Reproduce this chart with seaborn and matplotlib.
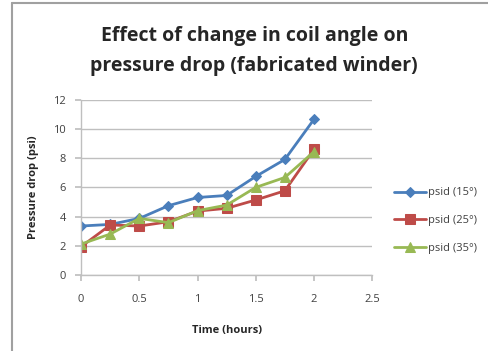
import matplotlib
matplotlib.use("Agg")
import matplotlib.pyplot as plt
import seaborn as sns
import pandas as pd
from matplotlib.lines import Line2D

time_hours = [0, 0.25, 0.5, 0.75, 1.0, 1.25, 1.5, 1.75, 2.0]
psid_15 = [3.35, 3.46, 3.87, 4.74, 5.3, 5.44, 6.74, 7.9, 10.64]
psid_25 = [1.94, 3.42, 3.35, 3.64, 4.37, 4.56, 5.13, 5.76, 8.59]
psid_35 = [2.12, 2.8, 3.87, 3.58, 4.4, 4.78, 5.99, 6.67, 8.43]
series_names = ["psid (15°)", "psid (25°)", "psid (35°)"]
x_ticks = [0, 0.5, 1, 1.5, 2, 2.5]
y_ticks = [0, 2, 4, 6, 8, 10, 12]

sns.set_theme(style="white")
plt.rcParams['font.family'] = ['Open Sans', 'DejaVu Sans']

rows = []
for name, vals in zip(series_names, [psid_15, psid_25, psid_35]):
    for t, v in zip(time_hours, vals):
        rows.append({"Time": t, "Pressure": v, "Series": name})
df = pd.DataFrame(rows)

fig = plt.figure(figsize=(4.89, 3.51), dpi=100)
ax = fig.add_axes([0.166, 0.2165, 0.595, 0.50])

palette = ["#4A7EBB", "#BE4B48", "#98B954"]
markers = ["D", "s", "^"]
sizes = [5, 7, 7]
for name, col, m, ms in zip(series_names, palette, markers, sizes):
    sub = df[df["Series"] == name]
    sns.lineplot(data=sub, x="Time", y="Pressure", ax=ax, color=col, marker=m,
                 markersize=ms, markeredgecolor=col, linewidth=2.0, label=name,
                 errorbar=None)

ax.set_xlim(0, 2.5)
ax.set_ylim(0, 12)
ax.set_xticks(x_ticks)
ax.set_xticklabels(["0", "0.5", "1", "1.5", "2", "2.5"])
ax.set_yticks(y_ticks)
ax.yaxis.grid(True, color="#BFBFBF", linewidth=1)
ax.xaxis.grid(False)
for s in ["top", "right"]:
    ax.spines[s].set_visible(False)
for s in ["left", "bottom"]:
    ax.spines[s].set_color("#BFBFBF")
    ax.spines[s].set_linewidth(1)
ax.tick_params(axis="both", which="major", length=4, color="#BFBFBF",
               labelsize=8, labelcolor="#404040", direction="out",
               bottom=True, left=True)
ax.tick_params(axis="x", pad=10)
ax.tick_params(axis="y", pad=7)
ax.set_xlabel("Time (hours)", fontsize=8, fontweight="bold", labelpad=14)
ax.set_ylabel("Pressure drop (psi)", fontsize=8, fontweight="bold", labelpad=10)

leg = ax.legend(loc="center left", bbox_to_anchor=(1.04, 0.31), frameon=False,
                fontsize=8, handlelength=2.9, labelspacing=1.5, handletextpad=0.2,
                labelcolor="#404040")

fig.suptitle("Effect of change in coil angle on\npressure drop (fabricated winder)",
             x=0.52, y=0.925, fontsize=14, fontweight="bold", linespacing=1.65)

fig.add_artist(Line2D([12/489, 12/489], [0, 1 - 3/351], color="#A0A0A0", linewidth=1.5,
                      transform=fig.transFigure))
fig.add_artist(Line2D([12/489, 1], [1 - 3/351, 1 - 3/351], color="#A0A0A0", linewidth=1.5,
                      transform=fig.transFigure))

fig.savefig("out.png", dpi=100)
